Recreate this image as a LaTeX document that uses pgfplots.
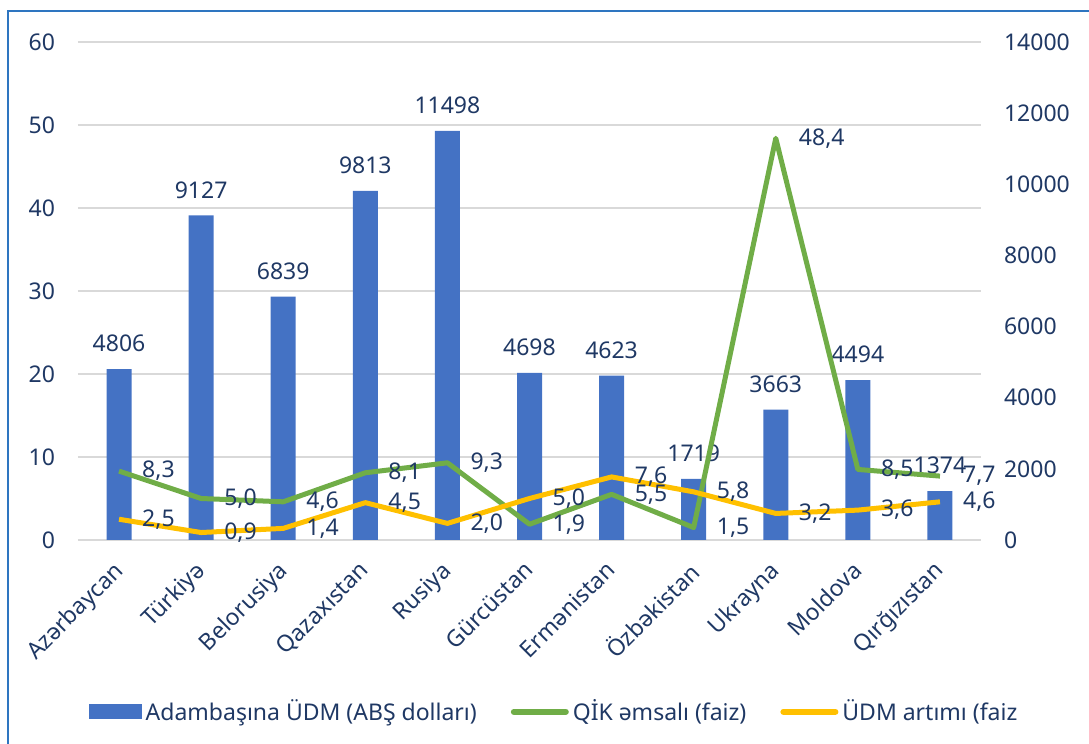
\documentclass[border=0pt]{standalone}
\usepackage{fontspec}
\setmainfont{Noto Sans}
\usepackage{pgfplots}
\pgfplotsset{compat=1.18}
\definecolor{txt}{HTML}{1F3864}
\definecolor{barc}{HTML}{4472C4}
\definecolor{qik}{HTML}{70AD47}
\definecolor{udm}{HTML}{FFC000}
\definecolor{gridc}{HTML}{D9D9D9}
\definecolor{bordc}{HTML}{2E75C0}
\newcommand{\lblfont}{\fontsize{11.5}{13}\selectfont}
\begin{document}
\begin{tikzpicture}
\pgfplotsset{
  every axis/.append style={
    at={(0,0)}, anchor=south west, scale only axis,
    width=451.5pt, height=249pt,
    xmin=-0.5, xmax=10.5,
    axis line style={draw=none},
    major tick length=0pt,
    tick label style={font=\lblfont, text=txt},
    /pgf/number format/assume math mode=true,
  },
}
% bars, right axis
\begin{axis}[
  ymin=0, ymax=14000, axis y line*=right, axis x line*=bottom,
  ytick={0,2000,...,14000}, scaled y ticks=false,
  yticklabel style={/pgf/number format/1000 sep={}, anchor=west, xshift=8pt},
  extra y ticks={0,2333.333,4666.667,7000,9333.333,11666.667,14000},
  extra y tick labels={,,,,,,},
  extra y tick style={grid=major, major grid style={draw=gridc, line width=0.75pt}},
  xtick={0,...,10},
  xticklabels={Azərbaycan,Türkiyə,Belorusiya,Qazaxıstan,Rusiya,Gürcüstan,Ermənistan,Özbəkistan,Ukrayna,Moldova,Qırğızıstan},
  xticklabel style={rotate=45, anchor=north east, xshift=-6pt, yshift=-1pt},
]
\addplot[ybar, bar width=12.5pt, fill=barc, draw=none,
  nodes near coords={\pgfmathprintnumber[1000 sep={}]{\pgfplotspointmeta}},
  every node near coord/.append style={font=\lblfont, text=txt, anchor=south, yshift=5pt}]
  coordinates {(0,4806) (1,9127) (2,6839) (3,9813) (4,11498) (5,4698) (6,4623) (7,1719) (8,3663) (9,4494) (10,1374)};
\end{axis}
% lines, left axis
\begin{axis}[
  ymin=0, ymax=60, axis y line*=left,
  ytick={0,10,...,60}, xtick=\empty,
  yticklabel style={anchor=east, xshift=-8pt},
  legend columns=3,
  legend style={draw=none, fill=none, font=\lblfont, text=txt,
    at={(axis description cs:0.005,-0.345)}, anchor=west,
    /tikz/every even column/.append style={column sep=15pt}},
  legend cell align=left,
]
\addlegendimage{legend image code/.code={\fill[barc] (0pt,-3.5pt) rectangle (26pt,3.5pt);}}
\addlegendentry{Adambaşına ÜDM (ABŞ dolları)}
\addplot[qik, line width=2.5pt, line join=round,
  legend image code/.code={\draw[line width=3pt, line cap=round] (0pt,0pt) -- (26pt,0pt);},
  nodes near coords={\pgfmathprintnumber[fixed,fixed zerofill,precision=1,use comma]{\pgfplotspointmeta}},
  every node near coord/.append style={font=\lblfont, text=txt, anchor=west, xshift=7pt}]
  coordinates {(0,8.3) (1,5.0) (2,4.6) (3,8.1) (4,9.3) (5,1.9) (6,5.5) (7,1.5) (8,48.4) (9,8.5) (10,7.7)};
\addlegendentry{QİK əmsalı (faiz)}
\addplot[udm, line width=2.5pt, line join=round,
  legend image code/.code={\draw[line width=3pt, line cap=round] (0pt,0pt) -- (26pt,0pt);},
  nodes near coords={\pgfmathprintnumber[fixed,fixed zerofill,precision=1,use comma]{\pgfplotspointmeta}},
  every node near coord/.append style={font=\lblfont, text=txt, anchor=west, xshift=7pt}]
  coordinates {(0,2.5) (1,0.9) (2,1.4) (3,4.5) (4,2.0) (5,5.0) (6,7.6) (7,5.8) (8,3.2) (9,3.6) (10,4.6)};
\addlegendentry{ÜDM artımı (faiz}
\end{axis}
\draw[bordc, line width=0.75pt] (-35pt,-102pt) -- (-35pt,264.5pt) -- (505.5pt,264.5pt);
\pgfresetboundingbox
\useasboundingbox (-39pt,-102pt) rectangle (505.5pt,270pt);
\end{tikzpicture}
\end{document}
